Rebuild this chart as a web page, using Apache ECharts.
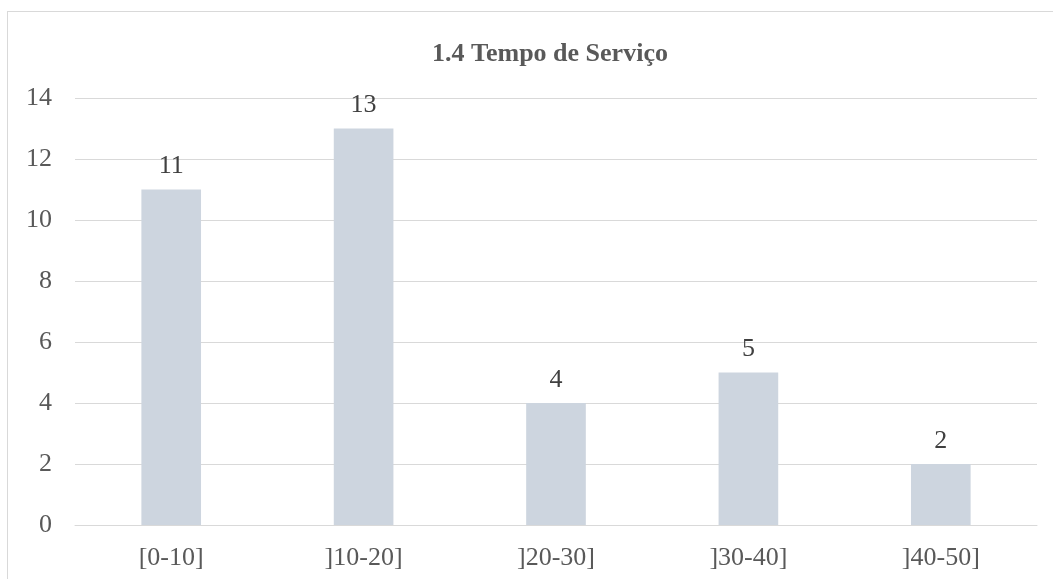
<!DOCTYPE html>
<html>
<head>
<meta charset="utf-8">
<script src="https://cdn.jsdelivr.net/npm/echarts@6/dist/echarts.min.js"></script>
<style>
  html, body { margin: 0; padding: 0; background: #fff; }
  #frame { position: absolute; left: 7px; top: 11px; width: 1100px; height: 620px;
           border-left: 1px solid #d9d9d9; border-top: 1px solid #d9d9d9; }
  #chart { position: absolute; left: 0; top: 0; width: 1053px; height: 579px; }
</style>
</head>
<body>
<div id="frame"></div>
<div id="chart"></div>
<script>
var categories = ['[0-10]', ']10-20]', ']20-30]', ']30-40]', ']40-50]'];
var values = [11, 13, 4, 5, 2];
var yTicks = [0, 2, 4, 6, 8, 10, 12, 14];

var font = '"Liberation Serif", "Times New Roman", serif';
var chart = echarts.init(document.getElementById('chart'));
chart.setOption({
  animation: false,
  title: {
    text: '1.4 Tempo de Serviço',
    left: 427,
    top: 36,
    textStyle: { fontFamily: font, fontSize: 26, fontWeight: 'bold', color: '#595959' }
  },
  grid: { left: 75, right: 16, top: 98, bottom: 54, containLabel: false },
  xAxis: {
    type: 'category',
    data: categories,
    axisLine: { lineStyle: { color: '#d9d9d9' } },
    axisTick: { show: false },
    axisLabel: { fontFamily: font, fontSize: 26, color: '#595959', margin: 20 }
  },
  yAxis: {
    type: 'value',
    min: yTicks[0],
    max: yTicks[yTicks.length - 1],
    interval: 2,
    axisLine: { show: false },
    axisTick: { show: false },
    splitLine: { lineStyle: { color: '#d9d9d9' } },
    axisLabel: { fontFamily: font, fontSize: 26, color: '#595959', margin: 23 }
  },
  series: [{
    type: 'bar',
    data: values,
    barWidth: '31%',
    itemStyle: { color: '#cdd5df' },
    label: { show: true, position: 'top', distance: 10, fontFamily: font, fontSize: 26, color: '#404040' }
  }]
});
</script>
</body>
</html>
